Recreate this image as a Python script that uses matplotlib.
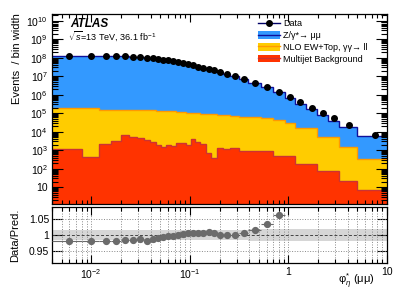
import numpy as np
import matplotlib
matplotlib.use("Agg")
import matplotlib.pyplot as plt
from matplotlib.patches import Patch
from matplotlib.lines import Line2D
from matplotlib.ticker import LogLocator, FixedLocator, FuncFormatter, NullFormatter

plt.rcParams['font.family'] = ['Liberation Sans', 'DejaVu Sans']
plt.rcParams['mathtext.fontset'] = 'custom'
plt.rcParams['mathtext.rm'] = 'Liberation Sans'
plt.rcParams['mathtext.it'] = 'Liberation Sans:italic'
plt.rcParams['mathtext.bf'] = 'Liberation Sans:bold'

# phi*_eta binning
bin_edges = [0.004, 0.008, 0.012, 0.016, 0.020, 0.024, 0.029, 0.034, 0.039, 0.045,
             0.051, 0.057, 0.064, 0.072, 0.081, 0.091, 0.102, 0.114, 0.128, 0.145,
             0.165, 0.189, 0.219, 0.258, 0.312, 0.391, 0.524, 0.695, 0.918, 1.153,
             1.496, 1.947, 2.522, 3.277, 5.0, 10.0]

# events / bin width
data_vals = [1.29e8, 1.29e8, 1.29e8, 1.26e8, 1.17e8, 1.12e8, 1.07e8, 1.00e8, 9.3e7, 8.7e7,
             7.9e7, 7.2e7, 6.5e7, 5.75e7, 5.0e7, 4.5e7, 3.8e7, 3.3e7, 2.9e7, 2.45e7,
             2.04e7, 1.66e7, 1.32e7, 9.8e6, 6.9e6, 4.5e6, 2.6e6, 1.41e6, 7.6e5, 4.0e5,
             2.0e5, 1.02e5, 5.4e4, 2.3e4, 6.5e3]
zmumu_vals = [1.312e8, 1.313e8, 1.313e8, 1.282e8, 1.189e8, 1.136e8, 1.082e8, 1.017e8, 9.40e7, 8.77e7,
              7.94e7, 7.22e7, 6.50e7, 5.73e7, 4.97e7, 4.46e7, 3.76e7, 3.27e7, 2.87e7, 2.42e7,
              2.02e7, 1.65e7, 1.313e7, 9.74e6, 6.80e6, 4.37e6, 2.45e6, 1.28e6, 6.0e5, 3.14e5,
              1.50e5, 7.6e4, 3.3e4, 1.59e4, 5.5e3]
ew_top_vals = [198000, 199000, 145700, 148300, 148400, 146500, 143400, 140900, 138400, 129800,
               127200, 123900, 124100, 117800, 115100, 105300, 100800, 99400, 93300, 90500,
               88700, 83800, 78300, 72700, 65100, 62100, 56500, 43200, 29700, 15700,
               15700, 4930, 4930, 1490, 324]
multijet_vals = [1120, 447, 2240, 3090, 6460, 4900, 4470, 3630, 2880, 2000,
                 1550, 2040, 1780, 2400, 2400, 1950, 3890, 2950, 2190, 690,
                 372, 1290, 1120, 1380, 955, 955, 955, 490, 468, 190,
                 190, 79, 79, 23, 7.1]
# relative half-width of the prediction uncertainty band
unc_band = [0.015, 0.015, 0.015, 0.015, 0.015, 0.015, 0.015, 0.015, 0.015, 0.015,
            0.015, 0.015, 0.015, 0.015, 0.015, 0.015, 0.015, 0.015, 0.016, 0.016,
            0.016, 0.016, 0.017, 0.017, 0.017, 0.018, 0.018, 0.018, 0.019, 0.019,
            0.019, 0.02, 0.02, 0.02, 0.02]

edges = np.array(bin_edges)
centers = 0.5 * (edges[1:] + edges[:-1])
halfw = 0.5 * (edges[1:] - edges[:-1])
data = np.array(data_vals)
mj = np.array(multijet_vals)
yel = mj + np.array(ew_top_vals)
tot = yel + np.array(zmumu_vals)
ratio = data / tot
unc = np.array(unc_band)

c_blue, c_blue_l = '#3399ff', '#10109a'
c_yel, c_yel_l = '#ffcc00', '#ff9900'
c_red, c_red_l = '#ff3300', '#cc3333'

fig = plt.figure(figsize=(4.11, 2.97), dpi=100)
ax = fig.add_axes([52/411, 1-204/297, 335/411, 190/297])
rax = fig.add_axes([52/411, 1-263/297, 335/411, 56/297])

base = 1e-3
ax.stairs(tot, edges, baseline=base, fill=True, color=c_blue)
ax.stairs(tot, edges, baseline=None, color=c_blue_l, lw=1.0)
ax.stairs(yel, edges, baseline=base, fill=True, color=c_yel)
ax.stairs(yel, edges, baseline=None, color=c_yel_l, lw=1.0)
ax.stairs(mj, edges, baseline=base, fill=True, color=c_red)
ax.stairs(mj, edges, baseline=None, color=c_red_l, lw=1.0)
ax.plot(centers, data, 'o', color='black', ms=4.0, zorder=5)

ax.set_xscale('log')
ax.set_yscale('log')
ax.set_xlim(0.004, 10)
ax.set_ylim(1.25, 2.3e10)
ax.yaxis.set_major_locator(LogLocator(base=10, numticks=20))
ax.yaxis.set_minor_locator(LogLocator(base=10, subs=np.arange(2, 10), numticks=20))


def ylab(v, pos):
    n = int(round(np.log10(v)))
    return '10' if n == 1 else r'$10^{%d}$' % n


ax.yaxis.set_major_formatter(FuncFormatter(ylab))
ax.yaxis.set_minor_formatter(NullFormatter())

# ratio panel
rax.stairs(1 + unc, edges, baseline=1 - unc, fill=True, color='#d6d6d6', zorder=1)
rax.axhline(1.0, ls=(0, (3, 2)), color='#444444', lw=0.7, zorder=2)
for yv in (0.95, 1.05):
    rax.axhline(yv, ls=':', color='#888888', lw=0.7, zorder=2)
rax.grid(True, which='both', axis='x', ls=':', color='#888888', lw=0.7)
rax.errorbar(centers, ratio, xerr=halfw, fmt='o', color='#6b6b6b', ms=4.2,
             lw=0.8, capsize=0, zorder=4)
rax.set_xscale('log')
rax.set_xlim(0.004, 10)
rax.set_ylim(0.91, 1.09)
rax.yaxis.set_major_locator(FixedLocator([0.95, 1.0, 1.05]))
rax.yaxis.set_major_formatter(FuncFormatter(lambda v, p: {0.95: '0.95', 1.0: '1', 1.05: '1.05'}.get(round(v, 2), '')))


def xlab(v, pos):
    n = int(round(np.log10(v)))
    if n == 0:
        return '1'
    if n == 1:
        return '10'
    return r'$10^{%d}$' % n


rax.xaxis.set_major_formatter(FuncFormatter(xlab))
rax.xaxis.set_minor_formatter(NullFormatter())

for a in (ax, rax):
    a.tick_params(which='both', direction='in', top=True, right=True, labelsize=7.5, width=0.8)
    a.tick_params(which='major', length=6, pad=3)
    a.tick_params(which='minor', length=3)
    for s in a.spines.values():
        s.set_linewidth(0.9)
ax.tick_params(axis='x', which='both', labelbottom=False)
ax.tick_params(axis='y', which='major', length=8)
ax.tick_params(axis='y', which='minor', length=4.5)
rax.tick_params(axis='y', which='major', length=7, pad=2)

# texts
fig.text(17/411, 1-13/297, 'Events  / bin width', rotation=90, ha='center', va='top', fontsize=8)
fig.text(15/411, 1-235/297, 'Data/Pred.', rotation=90, ha='center', va='center', fontsize=8)
fig.text(375/411, 1-281/297, r'φ$^{*}_{η}$ (μμ)', ha='right', va='center', fontsize=8)
fig.text(70/411, 1-24/297, 'ATLAS', fontsize=8.5, fontweight='bold', fontstyle='italic', va='center')
fig.text(68/411, 1-36/297, r'$\sqrt{s}$=13 TeV, 36.1 fb$^{-1}$', fontsize=6.5, va='center')

handles = [
    Line2D([], [], color='#000066', lw=1, marker='o', mfc='black', mec='black', ms=4.0),
    (Patch(facecolor=c_blue, edgecolor='none'), Line2D([], [], color=c_blue_l, lw=1)),
    (Patch(facecolor=c_yel, edgecolor='none'), Line2D([], [], color=c_yel_l, lw=1)),
    (Patch(facecolor=c_red, edgecolor='none'), Line2D([], [], color=c_red_l, lw=1)),
]
labels = ['Data', 'Z/γ*→ μμ', 'NLO EW+Top, γγ→ ll', 'Multijet Background']
fig.legend(handles, labels, loc='upper left', bbox_to_anchor=(258/411, 1-19.5/297),
           frameon=False, fontsize=6.5, handlelength=2.4, handleheight=0.9,
           handletextpad=0.4, labelspacing=0.3, borderaxespad=0, borderpad=0)

fig.savefig('out.png', dpi=100)
